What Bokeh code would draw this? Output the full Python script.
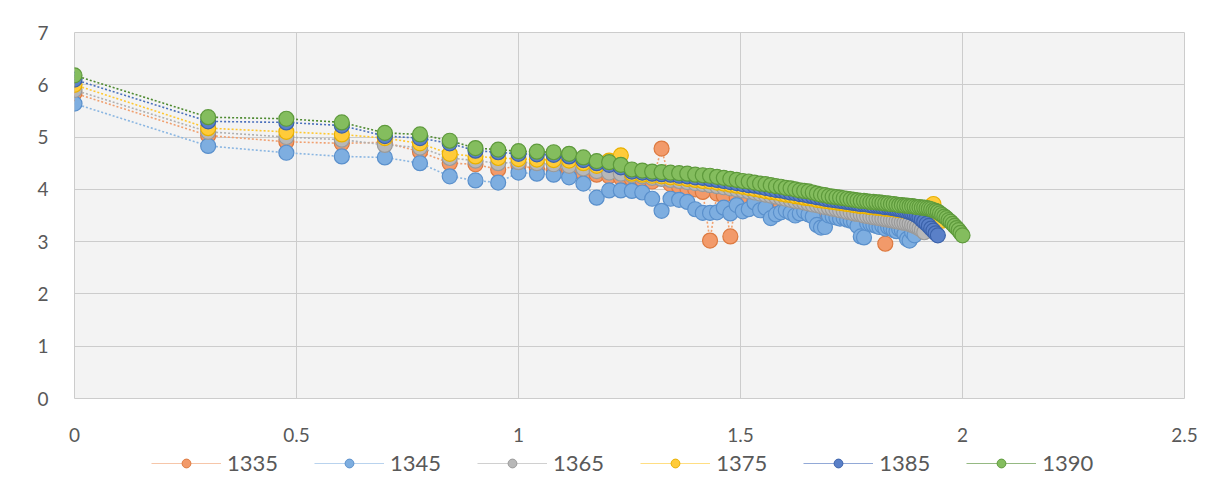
import numpy as np
from bokeh.plotting import figure
from bokeh.layouts import column
from bokeh.models import Range1d, Legend, LegendItem, FixedTicker, ColumnDataSource
from bokeh.embed import file_html
from bokeh.resources import INLINE

# ---------------- data ----------------
series_names = ["1335", "1345", "1365", "1375", "1385", "1390"]

# y values listed by rank 1..N; x = log10(rank)
y_1335 = [5.84, 5.03, 4.91, 4.88, 4.90, 4.72, 4.50, 4.48, 4.38, 4.45,
          4.40, 4.38, 4.35, 4.30, 4.28, 4.25, 4.22, 4.20, 4.18, 4.15,
          4.78, 4.10, 4.05, 4.02, 4.00, 3.95, 3.02, 3.92, 3.88, 3.10,
          3.85, 3.83, 3.81, 3.79, 3.77, 3.75, 3.73, 3.71, 3.69, 3.68,
          3.66, 3.64, 3.63, 3.61, 3.60, 3.58, 3.57, 3.55, 3.54, 3.53,
          3.51, 3.50, 3.49, 3.48, 3.47, 3.46, 3.45, 3.44, 3.43, 3.42,
          3.41, 3.40, 3.39, 3.38, 3.37, 3.36, 2.96]

y_1345 = [5.64, 4.83, 4.70, 4.63, 4.61, 4.50, 4.25, 4.17, 4.13, 4.32,
          4.30, 4.28, 4.23, 4.11, 3.84, 3.98, 3.98, 3.97, 3.94, 3.82,
          3.59, 3.82, 3.80, 3.76, 3.62, 3.55, 3.55, 3.56, 3.65, 3.54,
          3.70, 3.58, 3.62, 3.75, 3.60, 3.65, 3.45, 3.52, 3.56, 3.60,
          3.55, 3.50, 3.54, 3.58, 3.52, 3.48, 3.32, 3.27, 3.28, 3.50,
          3.48, 3.46, 3.44, 3.45, 3.42, 3.40, 3.38, 3.30, 3.10, 3.08,
          3.35, 3.34, 3.32, 3.30, 3.28, 3.30, 3.25, 3.28, 3.26, 3.22,
          3.20, 3.24, 3.22, 3.15, 3.05, 3.02, 3.18, 3.12]

y_1365 = [5.90, 5.10, 5.00, 4.95, 4.85, 4.80, 4.60, 4.55, 4.50, 4.52,
          4.50, 4.48, 4.45, 4.40, 4.35, 4.32, 4.30, 4.27, 4.25, 4.22,
          4.20, 4.18, 4.16, 4.14, 4.12, 4.10, 4.08, 4.06, 4.04, 4.02,
          4.00, 3.98, 3.96, 3.94, 3.92, 3.90, 3.88, 3.86, 3.84, 3.82,
          3.80, 3.78, 3.77, 3.75, 3.73, 3.71, 3.70, 3.68, 3.66, 3.65,
          3.63, 3.62, 3.60, 3.59, 3.57, 3.56, 3.54, 3.53, 3.52, 3.50,
          3.49, 3.48, 3.47, 3.46, 3.45, 3.44, 3.43, 3.42, 3.41, 3.40,
          3.39, 3.38, 3.37, 3.36, 3.35, 3.34, 3.32, 3.30, 3.28, 3.25,
          3.22, 3.18]

y_1375 = [6.00, 5.17, 5.10, 5.05, 4.98, 4.88, 4.68, 4.63, 4.60, 4.58,
          4.57, 4.56, 4.55, 4.50, 4.45, 4.55, 4.65, 4.30, 4.28, 4.26,
          4.25, 4.23, 4.22, 4.20, 4.18, 4.16, 4.15, 4.13, 4.11, 4.09,
          4.07, 4.05, 4.03, 4.01, 3.99, 3.97, 3.95, 3.94, 3.92, 3.90,
          3.89, 3.87, 3.86, 3.84, 3.83, 3.82, 3.80, 3.79, 3.78, 3.77,
          3.76, 3.75, 3.74, 3.73, 3.72, 3.71, 3.70, 3.69, 3.68, 3.68,
          3.67, 3.66, 3.66, 3.65, 3.65, 3.64, 3.63, 3.63, 3.62, 3.62,
          3.61, 3.60, 3.60, 3.59, 3.59, 3.58, 3.58, 3.57, 3.57, 3.56,
          3.56, 3.55, 3.55, 3.60, 3.68, 3.72, 3.55, 3.50, 3.45, 3.40]

y_1385 = [6.10, 5.30, 5.28, 5.22, 5.02, 4.98, 4.88, 4.74, 4.71, 4.68,
          4.67, 4.66, 4.63, 4.56, 4.50, 4.47, 4.42, 4.34, 4.32, 4.30,
          4.29, 4.28, 4.26, 4.25, 4.23, 4.22, 4.20, 4.18, 4.16, 4.14,
          4.12, 4.10, 4.08, 4.07, 4.05, 4.03, 4.01, 3.99, 3.98, 3.96,
          3.94, 3.93, 3.91, 3.90, 3.88, 3.87, 3.85, 3.84, 3.82, 3.81,
          3.80, 3.79, 3.78, 3.77, 3.76, 3.75, 3.74, 3.73, 3.72, 3.72,
          3.71, 3.70, 3.69, 3.69, 3.68, 3.67, 3.66, 3.66, 3.65, 3.64,
          3.63, 3.62, 3.61, 3.60, 3.58, 3.57, 3.55, 3.53, 3.50, 3.47,
          3.42, 3.38, 3.34, 3.30, 3.25, 3.21, 3.16, 3.12]

y_1390 = [6.18, 5.38, 5.35, 5.28, 5.08, 5.05, 4.93, 4.79, 4.76, 4.73,
          4.72, 4.71, 4.68, 4.61, 4.54, 4.52, 4.47, 4.38, 4.36, 4.34,
          4.33, 4.32, 4.31, 4.30, 4.28, 4.27, 4.26, 4.24, 4.22, 4.20,
          4.18, 4.16, 4.15, 4.13, 4.11, 4.10, 4.08, 4.06, 4.05, 4.03,
          4.02, 4.00, 3.98, 3.97, 3.96, 3.94, 3.92, 3.90, 3.89, 3.87,
          3.86, 3.85, 3.84, 3.83, 3.82, 3.81, 3.80, 3.79, 3.78, 3.78,
          3.77, 3.76, 3.76, 3.75, 3.75, 3.74, 3.73, 3.73, 3.72, 3.72,
          3.71, 3.70, 3.70, 3.69, 3.69, 3.68, 3.68, 3.67, 3.66, 3.66,
          3.65, 3.65, 3.64, 3.63, 3.62, 3.60, 3.59, 3.57, 3.54, 3.51,
          3.48, 3.45, 3.41, 3.38, 3.34, 3.30, 3.26, 3.22, 3.17, 3.12]

series_values = [y_1335, y_1345, y_1365, y_1375, y_1385, y_1390]

x_ticks = [0, 0.5, 1, 1.5, 2, 2.5]
x_tick_labels = ["0", "0.5", "1", "1.5", "2", "2.5"]
y_ticks = [0, 1, 2, 3, 4, 5, 6, 7]

# ---------------- styling ----------------
fill_colors = ["#F29A6A", "#7EAEE0", "#B8B8B8", "#FFCB3A", "#5A80C8", "#84BD5E"]
edge_colors = ["#DD7A40", "#5A90CC", "#9A9A9A", "#E8B000", "#3B62AA", "#5E9A3C"]
line_colors = ["#F0A070", "#8AB6E2", "#B0B0B0", "#FFC830", "#4A70BC", "#4E8A30"]

FONT = "Lato"
TXT = "#595959"

p = figure(width=1203, height=450,
           x_range=Range1d(0, 2.5), y_range=Range1d(0, 7),
           output_backend="svg", toolbar_location=None,
           min_border_left=74, min_border_right=19,
           min_border_top=32, min_border_bottom=52)

p.background_fill_color = "#f3f3f3"
p.border_fill_color = "white"
p.outline_line_color = "#cccccc"

p.xaxis.ticker = FixedTicker(ticks=x_ticks)
p.yaxis.ticker = FixedTicker(ticks=y_ticks)
p.xaxis.major_label_overrides = {t: s for t, s in zip(x_ticks, x_tick_labels)}

for ax in (p.xaxis, p.yaxis):
    ax.axis_line_color = None
    ax.major_tick_line_color = None
    ax.minor_tick_line_color = None
    ax.major_tick_out = 0
    ax.major_tick_in = 0
    ax.major_label_text_font = FONT
    ax.major_label_text_font_size = "19px"
    ax.major_label_text_color = TXT
p.xaxis.major_label_standoff = 29
p.yaxis.major_label_standoff = 26

p.xgrid.grid_line_color = "#cccccc"
p.ygrid.grid_line_color = "#cccccc"

sources = []
for name, ys, fc, ec, lc in zip(series_names, series_values, fill_colors, edge_colors, line_colors):
    xs = np.log10(np.arange(1, len(ys) + 1))
    src = ColumnDataSource(dict(x=xs, y=ys))
    sources.append(src)
    p.line("x", "y", source=src, line_color=lc, line_width=1.6, line_dash="2 2")
    p.scatter("x", "y", source=src, size=15, fill_color=fc, line_color=ec, line_width=1.2)

# ---------------- legend strip below the chart ----------------
# its ranges lie away from the data, so only the legend shows
leg = figure(width=1203, height=29, output_backend="svg", toolbar_location=None,
             x_range=Range1d(0, 2.5), y_range=Range1d(20, 21),
             x_axis_location=None, y_axis_location=None,
             min_border_left=0, min_border_right=0, min_border_top=0, min_border_bottom=0)
leg.grid.visible = False
leg.outline_line_color = None
leg.background_fill_color = "white"
leg.border_fill_color = "white"

legend_items = []
for name, src, fc, ec, lc in zip(series_names, sources, fill_colors, edge_colors, line_colors):
    lr = leg.line("x", "y", source=src, line_color=lc, line_width=1.2, line_alpha=0.6)
    sr = leg.scatter("x", "y", source=src, size=13, fill_color=fc, line_color=ec, line_width=1)
    legend_items.append(LegendItem(label=name, renderers=[lr, sr]))

legend = Legend(items=legend_items, orientation="horizontal", location=(77, 3),
                glyph_width=70, glyph_height=22, label_standoff=6, spacing=36,
                border_line_color=None, background_fill_alpha=0,
                label_text_font=FONT, label_text_font_size="22px",
                label_text_color=TXT, margin=0, padding=0)
leg.add_layout(legend)

layout = column(p, leg, spacing=0)
open("out.html", "w").write(file_html(layout, INLINE))
